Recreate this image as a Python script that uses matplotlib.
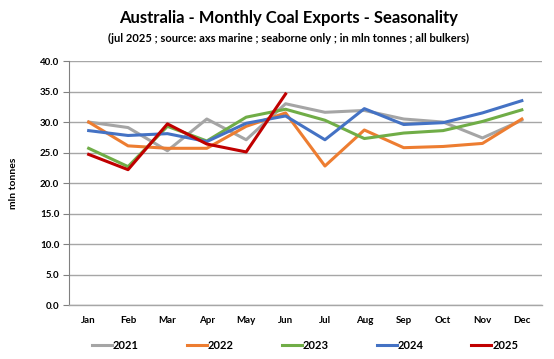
import matplotlib
matplotlib.use('Agg')
import matplotlib.pyplot as plt

months = ['Jan', 'Feb', 'Mar', 'Apr', 'May', 'Jun', 'Jul', 'Aug', 'Sep', 'Oct', 'Nov', 'Dec']
y2021 = [30.0, 29.1, 25.3, 30.5, 27.1, 33.0, 31.6, 31.9, 30.5, 30.0, 27.4, 30.3]
y2022 = [30.0, 26.1, 25.7, 25.7, 29.3, 31.5, 22.8, 28.7, 25.8, 26.0, 26.5, 30.5]
y2023 = [25.7, 22.7, 29.3, 26.9, 30.8, 32.1, 30.3, 27.3, 28.2, 28.6, 30.1, 32.0]
y2024 = [28.6, 27.8, 28.1, 26.8, 29.8, 31.0, 27.1, 32.2, 29.6, 29.9, 31.5, 33.5]
y2025 = [24.7, 22.2, 29.7, 26.4, 25.1, 34.6]

series = [('2021', y2021, '#A5A5A5'), ('2022', y2022, '#ED7D31'),
          ('2023', y2023, '#70AD47'), ('2024', y2024, '#4472C4'),
          ('2025', y2025, '#C00000')]

plt.rcParams['font.family'] = ['Lato', 'DejaVu Sans']
plt.rcParams['font.weight'] = 'bold'

fig = plt.figure(figsize=(5.54, 3.59), dpi=100)
ax = fig.add_axes([0.1245, 0.150, 0.853, 0.680])

for name, vals, col in series:
    ax.plot(range(len(vals)), vals, color=col, linewidth=2.2, label=name)

ax.set_xlim(-0.5, 11.5)
ax.set_ylim(0, 40)
ax.set_yticks(range(0, 41, 5))
ax.set_yticklabels([f'{v:.1f}' for v in range(0, 41, 5)], fontsize=7, fontweight='bold')
ax.set_xticks(range(12))
ax.set_xticklabels(months, fontsize=7, fontweight='bold')
ax.tick_params(axis='x', length=0, pad=8)
ax.tick_params(axis='y', length=4, width=0.8, color='#808080', pad=3)
ax.grid(axis='y', color='#A6A6A6', linewidth=1.0)
ax.set_axisbelow(True)
for s in ['top', 'right']:
    ax.spines[s].set_visible(False)
ax.spines['left'].set_color('#808080')
ax.spines['bottom'].set_color('#A6A6A6')
ax.spines['bottom'].set_linewidth(1.0)

ax.set_ylabel('mln tonnes', fontsize=7.5, fontweight='bold', labelpad=16)

fig.text(0.52, 0.950, 'Australia - Monthly Coal Exports - Seasonality',
         ha='center', va='center', fontsize=12, fontweight='bold')
fig.text(0.52, 0.893, '(jul 2025 ; source: axs marine ; seaborne only ; in mln tonnes ; all bulkers)',
         ha='center', va='center', fontsize=8, fontweight='bold')

leg = ax.legend(loc='center', bbox_to_anchor=(0.5, -0.165), ncol=5, frameon=False,
                fontsize=8, handlelength=1.8, handletextpad=0.1, columnspacing=4.3)
for t in leg.get_texts():
    t.set_fontweight('bold')

fig.savefig('out.png', dpi=100)
